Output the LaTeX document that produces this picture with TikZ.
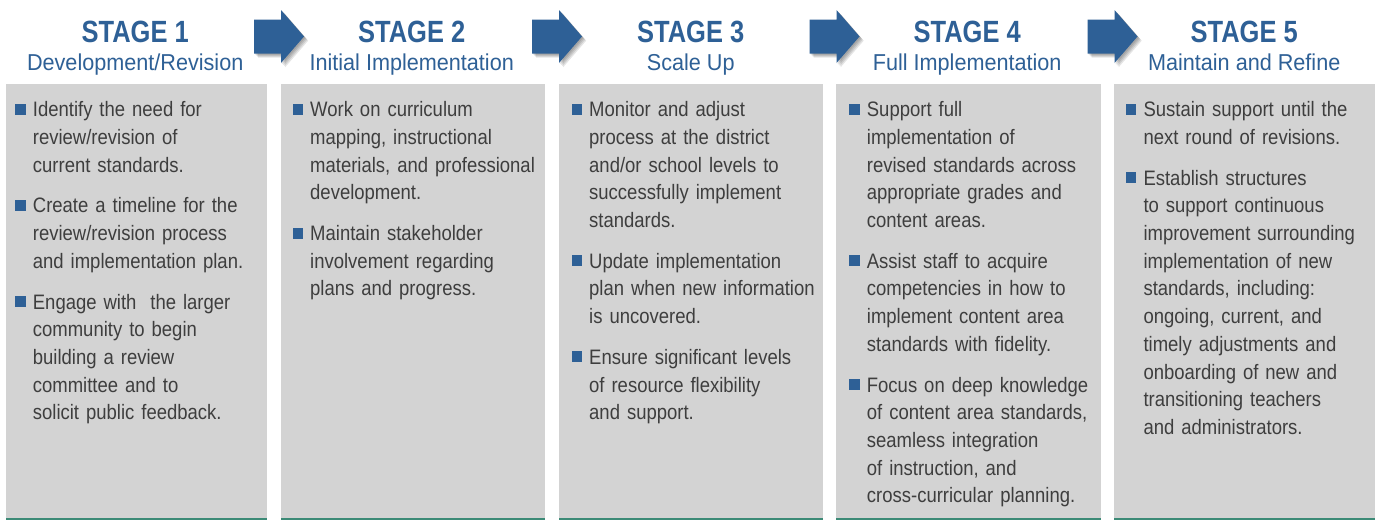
\documentclass[tikz,border=0pt]{standalone}
\usepackage{fontspec}
\setmainfont{Liberation Sans}[FakeStretch=0.885]
\newfontfamily\titlefont{Liberation Sans}[FakeStretch=0.83]
\newfontfamily\subfont{Liberation Sans}[FakeStretch=0.94]
\definecolor{stageblue}{RGB}{46,96,150}
\definecolor{boxgray}{RGB}{211,211,211}
\definecolor{bodytext}{RGB}{62,62,62}
\definecolor{linegreen}{RGB}{60,138,118}
\newcommand\stagebullet{\strut\llap{\textcolor{stageblue}{\rule[2pt]{10.5pt}{11pt}}\hspace{7.2pt}}}
\begin{document}
\begin{tikzpicture}[x=1pt,y=-1pt,
  stagebox/.style={fill=boxgray, draw=none, anchor=north west, inner sep=0, minimum height=436pt},
  bottomline/.style={draw=linegreen, line width=2pt},
  stagetitle/.style={anchor=base, inner sep=0, text=stageblue, font=\titlefont\bfseries\fontsize{30.7}{36}\selectfont},
  stagesub/.style={anchor=base, inner sep=0, text=stageblue, font=\subfont\fontsize{23}{28}\selectfont},
  item/.style={anchor=north west, inner sep=0, text width=280pt, align=left, text=bodytext, font=\fontsize{20.9}{27.67}\selectfont},
  stagearrow/.style={fill=stageblue},
  arrowshadow/.style={fill=black, opacity=0.1}]
\useasboundingbox (0,0) rectangle (1375,520);
\fill[white] (0,0) rectangle (1375,520);

% boxes
\node[stagebox, minimum width=261pt] (b1) at (6,84) {};
\node[stagebox, minimum width=264pt] (b2) at (281,84) {};
\node[stagebox, minimum width=264pt] (b3) at (559,84) {};
\node[stagebox, minimum width=265pt] (b4) at (836,84) {};
\node[stagebox, minimum width=261pt] (b5) at (1114,84) {};
\foreach \b in {b1,b2,b3,b4,b5}
  \draw[bottomline] ([yshift=1pt]\b.south west) -- ([yshift=1pt]\b.south east);

% arrows
\foreach \g in {274,552,829.5,1107.5}{
  \foreach \s in {1.2,2.2,3.2,4.2}
    \fill[arrowshadow] (\g-20+\s,19.5+\s) -- (\g+7+\s,19.5+\s) -- (\g+7+\s,10+\s) -- (\g+30+\s,36.5+\s)
      -- (\g+7+\s,63+\s) -- (\g+7+\s,53.5+\s) -- (\g-20+\s,53.5+\s) -- cycle;
  \fill[stagearrow] (\g-20,19.5) -- (\g+7,19.5) -- (\g+7,10) -- (\g+30,36.5)
      -- (\g+7,63) -- (\g+7,53.5) -- (\g-20,53.5) -- cycle;
}

% headings
\node[stagetitle] (t1) at ([xshift=-1.5pt]b1.north |- 0,42.3) {STAGE 1};
\node[stagesub]   (s1) at ([xshift=-1.5pt]b1.north |- 0,70) {Development/Revision};
\node[stagetitle] (t2) at ([xshift=-1.5pt]b2.north |- 0,42.3) {STAGE 2};
\node[stagesub]   (s2) at ([xshift=-1.5pt]b2.north |- 0,70) {Initial Implementation};
\node[stagetitle] (t3) at ([xshift=-0.5pt]b3.north |- 0,42.3) {STAGE 3};
\node[stagesub]   (s3) at ([xshift=-0.5pt]b3.north |- 0,70) {Scale Up};
\node[stagetitle] (t4) at ([xshift=-1.5pt]b4.north |- 0,42.3) {STAGE 4};
\node[stagesub]   (s4) at ([xshift=-1.5pt]b4.north |- 0,70) {Full Implementation};
\node[stagetitle] (t5) at ([xshift=-0.5pt]b5.north |- 0,42.3) {STAGE 5};
\node[stagesub]   (s5) at ([xshift=-0.5pt]b5.north |- 0,70) {Maintain and Refine};

% column 1
\node[item] (c1a) at (32.7,97.3) {\stagebullet Identify the need for\\review/revision of\\current standards.\strut};
\node[item] (c1b) at ([yshift=-12.7pt]c1a.south west) {\stagebullet Create a timeline for the\\review/revision process\\and implementation plan.\strut};
\node[item] (c1c) at ([yshift=-12.7pt]c1b.south west) {\stagebullet Engage with\ \ the larger\\community to begin\\building a review\\committee and to\\solicit public feedback.\strut};

% column 2
\node[item] (c2a) at (310,97.3) {\stagebullet Work on curriculum\\mapping, instructional\\materials, and professional\\development.\strut};
\node[item] (c2b) at ([yshift=-12.7pt]c2a.south west) {\stagebullet Maintain stakeholder\\involvement regarding\\plans and progress.\strut};

% column 3
\node[item] (c3a) at (589,97.3) {\stagebullet Monitor and adjust\\process at the district\\and/or school levels to\\successfully implement\\standards.\strut};
\node[item] (c3b) at ([yshift=-12.7pt]c3a.south west) {\stagebullet Update implementation\\plan when new information\\is uncovered.\strut};
\node[item] (c3c) at ([yshift=-12.7pt]c3b.south west) {\stagebullet Ensure significant levels\\of resource flexibility\\and support.\strut};

% column 4
\node[item] (c4a) at (866.7,97.3) {\stagebullet Support full\\implementation of\\revised standards across\\appropriate grades and\\content areas.\strut};
\node[item] (c4b) at ([yshift=-12.7pt]c4a.south west) {\stagebullet Assist staff to acquire\\competencies in how to\\implement content area\\standards with fidelity.\strut};
\node[item] (c4c) at ([yshift=-12.7pt]c4b.south west) {\stagebullet Focus on deep knowledge\\of content area standards,\\seamless integration\\of instruction, and\\cross-curricular planning.\strut};

% column 5
\node[item] (c5a) at (1143.3,97.3) {\stagebullet Sustain support until the\\next round of revisions.\strut};
\node[item] (c5b) at ([yshift=-12.7pt]c5a.south west) {\stagebullet Establish structures\\to support continuous\\improvement surrounding\\implementation of new\\standards, including:\\ongoing, current, and\\timely adjustments and\\onboarding of new and\\transitioning teachers\\and administrators.\strut};
\end{tikzpicture}
\end{document}
